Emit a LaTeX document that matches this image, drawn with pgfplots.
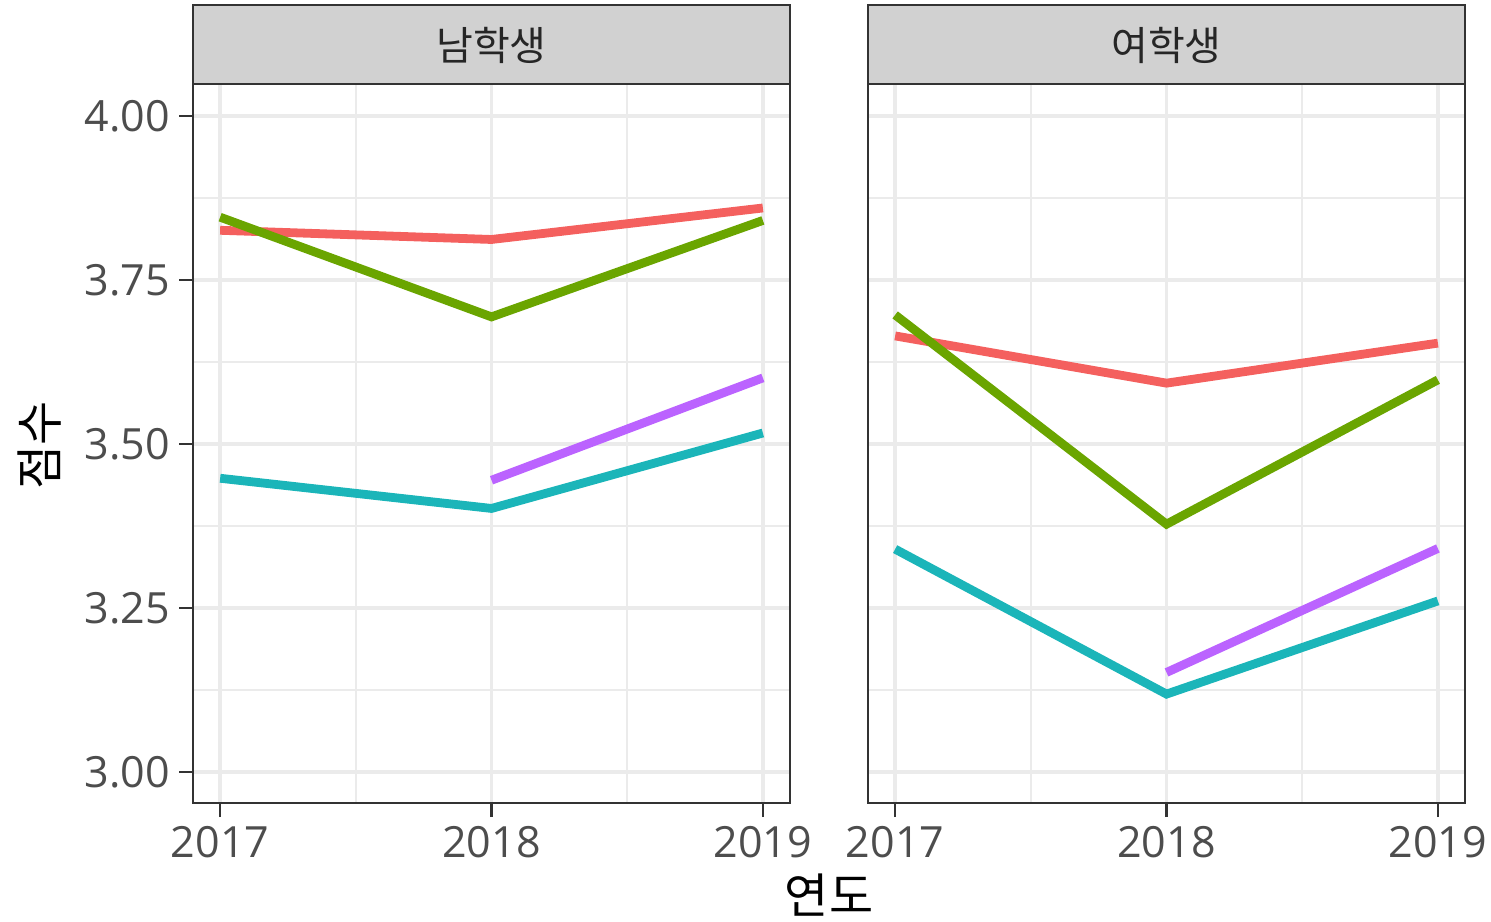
\documentclass[border=0pt]{standalone}
\usepackage{fontspec}
\setmainfont{Open Sans}
\newfontfamily\kr{Noto Sans CJK KR}
\usepackage{pgfplots}
\pgfplotsset{compat=1.18}
\definecolor{cred}{HTML}{F4605E}
\definecolor{cgreen}{HTML}{6AA500}
\definecolor{ccyan}{HTML}{1BB5B9}
\definecolor{cpurple}{HTML}{BB63FF}
\definecolor{gridgrey}{HTML}{EBEBEB}
\definecolor{stripgrey}{HTML}{D1D1D1}
\definecolor{axgrey}{HTML}{333333}
\definecolor{labgrey}{HTML}{4D4D4D}
\pgfplotsset{panel/.style={
  scale only axis, width=298.5pt, height=359.5pt,
  xmin=2016.9, xmax=2019.1, ymin=2.953, ymax=4.049,
  xtick={2017,2018,2019}, xticklabels={2017,2018,2019},
  minor xtick={2017.5,2018.5},
  ytick={3,3.25,3.5,3.75,4},
  minor ytick={3.125,3.375,3.625,3.875},
  xtick pos=bottom, ytick pos=left,
  grid=both,
  major grid style={color=gridgrey, line width=1.8pt},
  minor grid style={color=gridgrey, line width=1.1pt},
  axis line style={color=axgrey, line width=1pt},
  tick style={color=axgrey, line width=1.1pt},
  tick align=outside, major tick length=7pt, minor tick length=0pt,
  /pgf/number format/assume math mode=true,
  tick label style={font=\fontsize{21.5}{24}\selectfont, text=labgrey},
  xticklabel style={yshift=-1pt},
  yticklabel style={xshift=-1pt},
  every axis plot/.append style={line width=4.4pt, no markers},
}}
\begin{document}
\begin{tikzpicture}
\useasboundingbox (-96.5pt,-59pt) rectangle (649pt,401.5pt);
\begin{axis}[panel, at={(0,0)}, anchor=south west,
  yticklabels={3.00,3.25,3.50,3.75,4.00}]
\addplot[cred] coordinates {(2017,3.826) (2018,3.812) (2019,3.860)};
\addplot[cgreen] coordinates {(2017,3.846) (2018,3.694) (2019,3.841)};
\addplot[ccyan] coordinates {(2017,3.448) (2018,3.402) (2019,3.517)};
\addplot[cpurple] coordinates {(2018,3.445) (2019,3.601)};
\end{axis}
\begin{axis}[panel, at={(337.5pt,0)}, anchor=south west,
  yticklabels={}, ytick style={draw=none}]
\addplot[cred] coordinates {(2017,3.665) (2018,3.593) (2019,3.654)};
\addplot[cgreen] coordinates {(2017,3.697) (2018,3.378) (2019,3.598)};
\addplot[ccyan] coordinates {(2017,3.340) (2018,3.119) (2019,3.261)};
\addplot[cpurple] coordinates {(2018,3.152) (2019,3.341)};
\end{axis}
\draw[fill=stripgrey, draw=axgrey, line width=1pt] (0,359.5pt) rectangle (298.5pt,399pt);
\draw[fill=stripgrey, draw=axgrey, line width=1pt] (337.5pt,359.5pt) rectangle (636pt,399pt);
\node[font=\kr\fontsize{20}{24}\selectfont, text=black!85] at (149.25pt,379pt) {남학생};
\node[font=\kr\fontsize{20}{24}\selectfont, text=black!85] at (486.75pt,379pt) {여학생};
\node[font=\kr\fontsize{24}{28}\selectfont] at (318pt,-46pt) {연도};
\node[font=\kr\fontsize{24}{28}\selectfont, rotate=90] at (-76.5pt,179pt) {점수};
\end{tikzpicture}
\end{document}
